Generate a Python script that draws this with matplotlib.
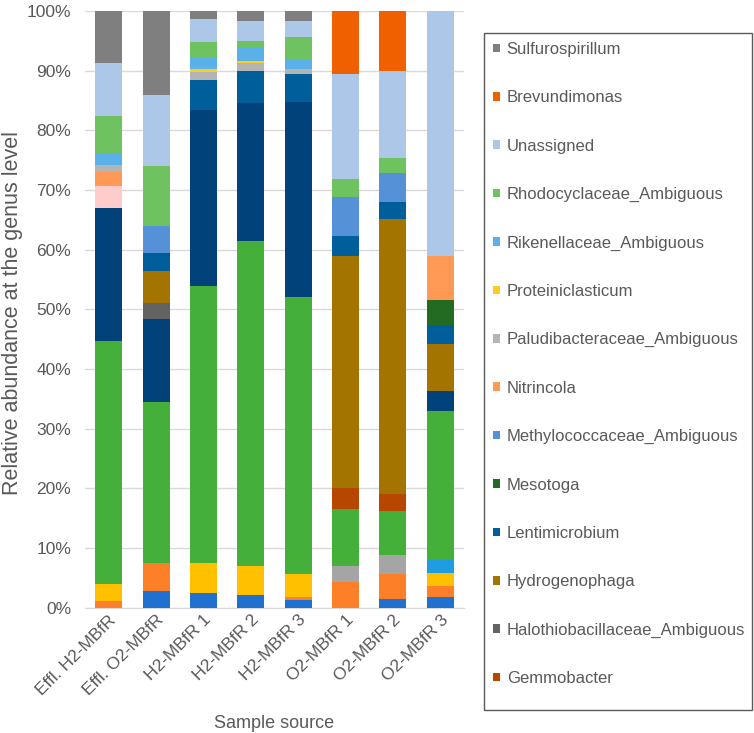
import matplotlib.pyplot as plt
import matplotlib.patches as mpatches
import numpy as np

plt.rcParams['font.family'] = ['Liberation Sans', 'DejaVu Sans']

samples = ['Effl. H2-MBfR', 'Effl. O2-MBfR', 'H2-MBfR 1', 'H2-MBfR 2',
           'H2-MBfR 3', 'O2-MBfR 1', 'O2-MBfR 2', 'O2-MBfR 3']

# series listed bottom -> top of the stack (values in %)
# the first eight are not listed in the (truncated) legend of the original
unlisted_blue   = [0.0, 2.7, 2.4, 2.1, 1.2, 0.0, 1.5, 1.7]
unlisted_orange = [1.1, 4.7, 0.0, 0.0, 0.6, 4.3, 4.1, 1.9]
unlisted_gray   = [0.0, 0.0, 0.0, 0.0, 0.0, 2.7, 3.2, 0.0]
unlisted_yellow = [2.8, 0.0, 5.0, 4.9, 3.8, 0.0, 0.0, 2.1]
unlisted_cyan   = [0.0, 0.0, 0.0, 0.0, 0.0, 0.0, 0.0, 2.3]
unlisted_green  = [40.8, 27.0, 46.5, 54.4, 46.5, 9.5, 7.3, 24.9]
unlisted_navy   = [22.2, 13.9, 29.5, 23.2, 32.7, 0.0, 0.0, 3.4]
unlisted_pink   = [3.8, 0.0, 0.0, 0.0, 0.0, 0.0, 0.0, 0.0]
gemmobacter     = [0.0, 0.0, 0.0, 0.0, 0.0, 3.5, 3.0, 0.0]
halothio        = [0.0, 2.7, 0.0, 0.0, 0.0, 0.0, 0.0, 0.0]
hydrogenophaga  = [0.0, 5.4, 0.0, 0.0, 0.0, 39.0, 46.0, 7.9]
lentimicrobium  = [0.0, 3.0, 5.1, 5.4, 4.7, 3.3, 2.9, 3.1]
mesotoga        = [0.0, 0.0, 0.0, 0.0, 0.0, 0.0, 0.0, 4.2]
methylococc     = [0.0, 4.5, 0.0, 0.0, 0.0, 6.5, 4.8, 0.0]
nitrincola      = [2.3, 0.0, 0.0, 0.0, 0.0, 0.0, 0.0, 7.4]
paludibact      = [1.1, 0.0, 1.2, 1.2, 0.8, 0.0, 0.0, 0.0]
proteiniclast   = [0.0, 0.0, 0.6, 0.4, 0.0, 0.0, 0.0, 0.0]
rikenella       = [2.1, 0.0, 1.9, 2.4, 1.7, 0.0, 0.0, 0.0]
rhodocyc        = [6.2, 10.1, 2.6, 1.0, 3.6, 3.0, 2.5, 0.0]
unassigned      = [8.8, 12.0, 3.9, 3.3, 2.7, 17.6, 14.6, 41.1]
brevundimonas   = [0.0, 0.0, 0.0, 0.0, 0.0, 10.6, 10.1, 0.0]
sulfurospir     = [8.8, 14.0, 1.4, 1.7, 1.7, 0.0, 0.0, 0.0]

series = [
    ('_blue', unlisted_blue, '#2070d0'),
    ('_orange', unlisted_orange, '#fd7f28'),
    ('_gray', unlisted_gray, '#a5a5a5'),
    ('_yellow', unlisted_yellow, '#ffc000'),
    ('_cyan', unlisted_cyan, '#1e9de0'),
    ('_green', unlisted_green, '#44b03a'),
    ('_navy', unlisted_navy, '#02427b'),
    ('_pink', unlisted_pink, '#ffcccc'),
    ('Gemmobacter', gemmobacter, '#b64600'),
    ('Halothiobacillaceae_Ambiguous', halothio, '#636363'),
    ('Hydrogenophaga', hydrogenophaga, '#a47400'),
    ('Lentimicrobium', lentimicrobium, '#005f9a'),
    ('Mesotoga', mesotoga, '#236b22'),
    ('Methylococcaceae_Ambiguous', methylococc, '#5591d6'),
    ('Nitrincola', nitrincola, '#ff9955'),
    ('Paludibacteraceae_Ambiguous', paludibact, '#b4b4b4'),
    ('Proteiniclasticum', proteiniclast, '#ffcc20'),
    ('Rikenellaceae_Ambiguous', rikenella, '#5ab0e8'),
    ('Rhodocyclaceae_Ambiguous', rhodocyc, '#6fc260'),
    ('Unassigned', unassigned, '#adc7e8'),
    ('Brevundimonas', brevundimonas, '#f06000'),
    ('Sulfurospirillum', sulfurospir, '#7f7f7f'),
]

fig = plt.figure(figsize=(7.54, 7.33), dpi=100)
ax = fig.add_axes([85 / 754, 1 - 607.5 / 733, 379 / 754, 596.5 / 733])

x = np.arange(len(samples))
bottom = np.zeros(len(samples))
handles = {}
for name, vals, col in series:
    vals = np.array(vals)
    b = ax.bar(x, vals, 0.57, bottom=bottom, color=col, label=name, zorder=3)
    handles[name] = b
    bottom += vals

ax.set_xlim(-0.5, len(samples) - 0.5)
ax.set_ylim(0, 100)
ax.set_yticks(np.arange(0, 101, 10))
ax.set_yticklabels([f'{v}%' for v in range(0, 101, 10)])
ax.yaxis.grid(True, color='#d9d9d9', linewidth=1, zorder=0)
for s in ['top', 'right', 'left']:
    ax.spines[s].set_visible(False)
ax.spines['bottom'].set_color('#d9d9d9')
ax.tick_params(axis='both', length=0, colors='#595959', labelsize=12.5)
ax.tick_params(axis='y', pad=10)
ax.set_xticks(x)
ax.set_xticklabels(samples, rotation=45, ha='right', rotation_mode='anchor')
ax.set_ylabel('Relative abundance at the genus level', fontsize=15.5, color='#595959')
ax.yaxis.set_label_coords((23 - 85) / 379, (607.5 - 313) / 596.5)
ax.set_xlabel('Sample source', fontsize=13, color='#595959', labelpad=12)

legend_order = ['Sulfurospirillum', 'Brevundimonas', 'Unassigned',
                'Rhodocyclaceae_Ambiguous', 'Rikenellaceae_Ambiguous',
                'Proteiniclasticum', 'Paludibacteraceae_Ambiguous', 'Nitrincola',
                'Methylococcaceae_Ambiguous', 'Mesotoga', 'Lentimicrobium',
                'Hydrogenophaga', 'Halothiobacillaceae_Ambiguous', 'Gemmobacter']
leg = fig.legend([handles[n] for n in legend_order], legend_order,
                 loc='upper left', bbox_to_anchor=(493 / 754, 1 - 42 / 733),
                 frameon=False, fontsize=12, labelspacing=2.0,
                 handlelength=0.42, handleheight=0.42, handletextpad=0.4,
                 borderaxespad=0, borderpad=0)
for t in leg.get_texts():
    t.set_color('#595959')

fig.patches.append(mpatches.Rectangle((484 / 754, 1 - 710 / 733), 268 / 754, 677 / 733,
                                      transform=fig.transFigure, fill=False,
                                      edgecolor='#595959', linewidth=1))

fig.savefig('out.png', dpi=100)
